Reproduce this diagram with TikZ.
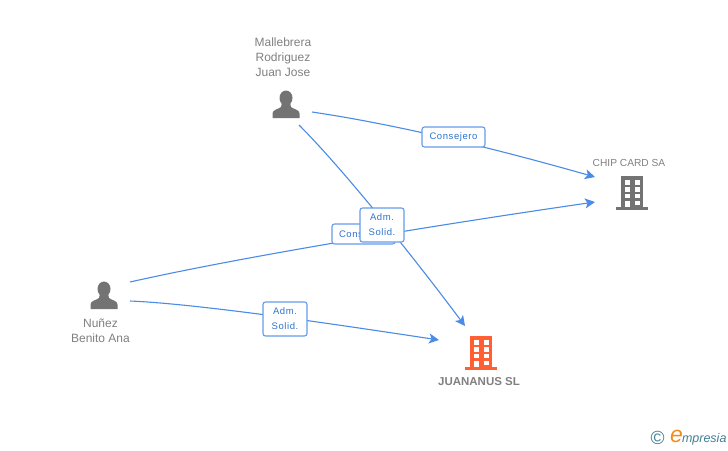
\documentclass[tikz,border=0pt]{standalone}
\usepackage{fontspec}
\setmainfont{Liberation Sans}
\usetikzlibrary{arrows.meta}
\definecolor{link_blue}{HTML}{4A8BE6}
\definecolor{box_text}{HTML}{2F74CE}
\definecolor{name_gray}{HTML}{808080}
\definecolor{icon_gray}{HTML}{737373}
\definecolor{main_orange}{HTML}{FF5F33}
\definecolor{logo_teal}{HTML}{3F7F96}
\definecolor{logo_orange}{HTML}{F28A1E}
\tikzset{link_edge/.style={color=link_blue, line width=1.1pt, -{Stealth[length=10pt,width=10pt,inset=2.5pt]}}}
\tikzset{link_box/.style={inner sep=0pt, outer sep=0pt, rectangle, rounded corners=2.5pt, fill=white, draw=link_blue!85, line width=1.1pt, align=center, text=box_text, font=\fontsize{9.5}{15}\selectfont\addfontfeature{LetterSpace=6}}}
\tikzset{name_label/.style={inner sep=0pt, outer sep=0pt, align=center, text=name_gray, font=\fontsize{12}{15}\selectfont}}
\tikzset{person/.pic={
    \fill[icon_gray] (0,-6.5) ellipse (6.5 and 7.5);
    \fill[icon_gray] (-13.5,13.5) -- (-13.5,9) .. controls (-13.5,5) and (-8,5) .. (-5,2.5) -- (-4,-2) -- (4,-2) -- (5,2.5) .. controls (8,5) and (13.5,5) .. (13.5,9) -- (13.5,13.5) -- cycle;
  }}
\tikzset{building/.pic={
    \fill[#1] (-11,-15.5) rectangle (11,15.5);
    \fill[#1] (-16,15) rectangle (16,18);
    \foreach \y in {-11.5,-4.5,2} {
      \fill[white] (-7.5,\y) rectangle (-2.5,\y+4.5);
      \fill[white] (2.5,\y) rectangle (7.5,\y+4.5);
    }
    \fill[white] (-7.5,9) rectangle (-2.5,15.5);
    \fill[white] (2.5,9) rectangle (7.5,13.5);
  }}
\begin{document}
\begin{tikzpicture}[x=1pt,y=-1pt]
    \useasboundingbox (0,0) rectangle (728,450);
    % free ends of the connectors
    \coordinate (mallebrera_a) at (312,112);
    \coordinate (mallebrera_b) at (299,125);
    \coordinate (nunez_a) at (130,282);
    \coordinate (nunez_b) at (130,301);
    \coordinate (chip_a) at (595,177);
    \coordinate (chip_b) at (595,202);
    \coordinate (juan_a) at (465,326);
    \coordinate (juan_b) at (439,340);

    \draw[link_edge] (mallebrera_a) .. controls (400,125) and (500,150) .. (chip_a);
    \draw[link_edge] (mallebrera_b) .. controls (342,168) and (412,255) .. (juan_a);
    \draw[link_edge] (nunez_a) .. controls (250,255) and (450,223) .. (chip_b);
    \draw[link_edge] (nunez_b) .. controls (200,304) and (340,325) .. (juan_b);

    \node[link_box, minimum width=63pt, minimum height=20pt] (box_consejero) at (453.5,137) {Consejero};
    \node[link_box, minimum width=63pt, minimum height=20pt, text width=49pt, align=left] (box_cons) at (363.5,234) {Cons};
    \node[link_box, minimum width=44pt, minimum height=34pt] (box_solid1) at (382,225) {Adm.\\Solid.};
    \node[link_box, minimum width=44pt, minimum height=34pt] (box_solid2) at (285,319) {Adm.\\Solid.};

    \pic at (286,104.5) {person};
    \pic at (104,295.5) {person};
    \pic at (632,191.5) {building=icon_gray};
    \pic at (481,351.5) {building=main_orange};

    \node[name_label] (mallebrera) at (283,57) {Mallebrera\\Rodriguez\\Juan Jose};
    \node[name_label] (nunez) at (100.5,330.5) {Nuñez\\Benito Ana};
    \node[name_label, font=\fontsize{10.2}{13}\selectfont] (chip) at (629,162.5) {CHIP CARD SA};
    \node[name_label, font=\fontsize{11.5}{14}\selectfont\bfseries] (juan) at (479,382) {JUANANUS SL};

    % logo
    \node[inner sep=0pt, outer sep=0pt, text=logo_teal, font=\fontsize{19}{19}\selectfont] (logo_c) at (657.5,437.5) {©};
    \node[inner sep=0pt, outer sep=0pt, text=logo_orange, font=\fontsize{23}{23}\selectfont\itshape] (logo_e) at (676.5,436.5) {e};
    \node[inner sep=0pt, outer sep=0pt, anchor=west, text=logo_teal, font=\fontsize{12.5}{13}\selectfont\itshape] (logo_text) at (682,439) {mpresia};
  \end{tikzpicture}
\end{document}
